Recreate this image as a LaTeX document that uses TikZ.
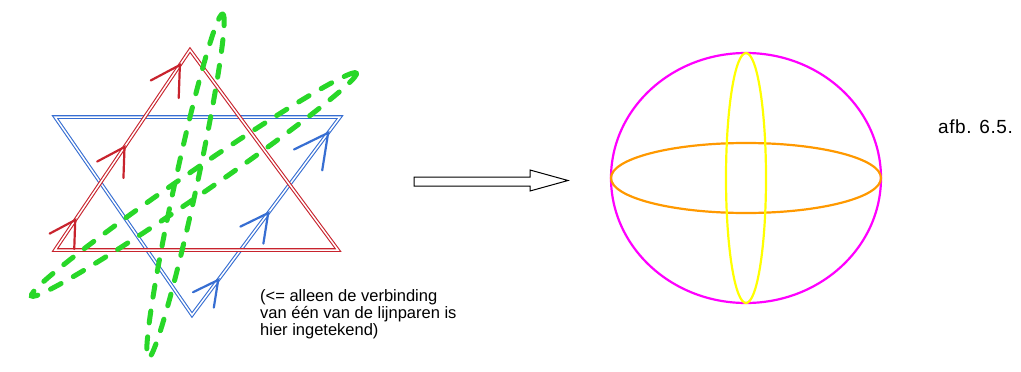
\documentclass[tikz,border=0pt]{standalone}
\usepackage{fontspec}
\setmainfont{Liberation Sans}
\usetikzlibrary{calc}
\definecolor{starred}{RGB}{200,35,45}
\definecolor{starblue}{RGB}{55,110,210}
\definecolor{loopgreen}{RGB}{40,215,40}
\definecolor{sphmag}{RGB}{255,0,255}
\definecolor{sphorange}{RGB}{255,153,0}
\definecolor{sphyellow}{RGB}{255,255,0}
\tikzset{
  dblred/.style={draw=starred, line width=1.1pt, double=white, double distance=1.5pt, line join=miter},
  dblblue/.style={draw=starblue, line width=1.1pt, double=white, double distance=1.5pt, line join=miter},
  redarm/.style={draw=starred, line width=2.2pt, line cap=round},
  bluearm/.style={draw=starblue, line width=2.2pt, line cap=round},
  greenloop/.style={draw=loopgreen, line width=5pt, line cap=round, dash pattern=on 12pt off 14pt},
  sphline/.style={line width=2.2pt},
  lbl/.style={inner sep=0pt},
}
\begin{document}
\begin{tikzpicture}[x=1pt,y=-1pt]
\useasboundingbox (0,0) rectangle (1021,372);
% star vertices
\coordinate (RA) at (190,50);
\coordinate (RL) at (55,250);
\coordinate (RR) at (338,250);
\coordinate (BTL) at (55,117);
\coordinate (BTR) at (340,117);
\coordinate (BB) at (192,315);
% triangles
\draw[dblblue] (BTL) -- (BTR) -- (BB) -- cycle;
\draw[dblred] (RA) -- (RR) -- (RL) -- cycle;
% red arrowheads along RL -> RA
\foreach \t/\l in {0.15/29,0.515/31,0.925/33}{
  \coordinate (rt) at ($(RL)!\t!(RA)$);
  \draw[redarm] ($(rt)+(92:\l)$) -- (rt) -- ($(rt)+(152:\l)$);
}
% blue arrowheads along BB -> BTR
\foreach \t/\l in {0.177/28,0.515/31,0.92/38}{
  \coordinate (bt) at ($(BB)!\t!(BTR)$);
  \draw[bluearm] ($(bt)+(99:\l)$) -- (bt) -- ($(bt)+(154:\l)$);
}
% green dashed loops
\coordinate (GA) at (194,184.5);
\coordinate (GB) at (185.5,186);
\draw[greenloop, rotate around={34.45:(GA)}] (GA) ellipse [x radius=197, y radius=12];
\draw[greenloop, rotate around={77.8:(GB)}] (GB) ellipse [x radius=176, y radius=11];
% hollow arrow
\draw[line width=1pt, line join=miter] (414,177) -- (530,177) -- (530,170) -- (568,180.5) -- (530,191) -- (530,186) -- (414,186) -- cycle;
% sphere
\coordinate (SC) at (746,178);
\draw[sphline, draw=sphmag] (SC) ellipse [x radius=135, y radius=125];
\draw[sphline, draw=sphorange] (SC) ellipse [x radius=135, y radius=35];
\draw[sphline, draw=sphyellow] (SC) ellipse [x radius=20, y radius=125];
% texts
\node[lbl, anchor=base west, font=\fontsize{19}{21}\selectfont] (afb) at (938,133) {\addfontfeatures{LetterSpace=3}afb. 6.5.};
\node[lbl, anchor=north west, align=left, font=\fontsize{16.5}{17}\selectfont] (note) at (260,289) {(<= alleen de verbinding\\ van één van de lijnparen is\\ hier ingetekend)};
\end{tikzpicture}
\end{document}
